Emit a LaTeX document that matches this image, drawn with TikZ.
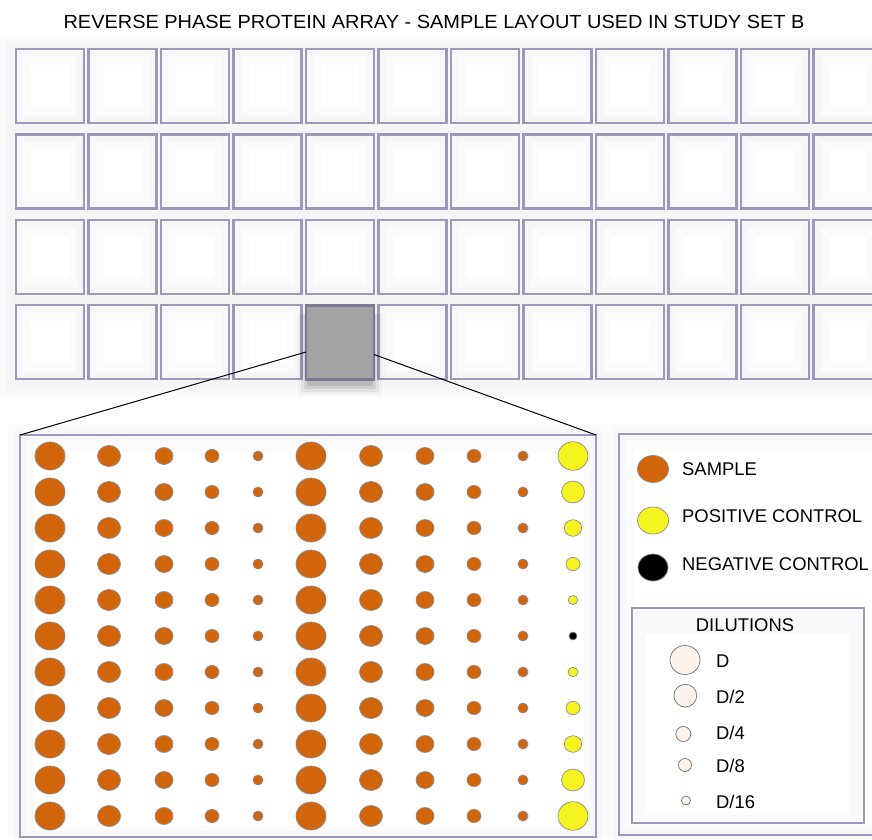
\documentclass[tikz,border=0pt]{standalone}
\usepackage{fontspec}
\setmainfont{Liberation Sans}
\definecolor{cellborder}{HTML}{9A9AB8}
\definecolor{orangedot}{HTML}{D2640A}
\definecolor{yellowdot}{HTML}{F5F51E}
\definecolor{creamdot}{HTML}{FCF4EC}
\definecolor{grayfill}{HTML}{A3A3A3}
\tikzset{
  cell/.style={draw=cellborder, line width=2.4pt, minimum width=68pt, minimum height=74pt, inner sep=0pt, outer sep=0pt},
  graycell/.style={cell, fill=grayfill, draw=cellborder!80!black},
  panelbox/.style={draw=cellborder, line width=2.4pt, inner sep=0pt, outer sep=0pt},
  dilbox/.style={draw=cellborder, line width=1.5pt, inner sep=0pt, outer sep=0pt},
  dotline/.style={draw=black!45, line width=0.7pt},
  lbl/.style={font=\fontsize{18.4}{20}\selectfont, inner sep=0pt},
  zoomline/.style={draw=black, line width=1pt}
}
\begin{document}
\begin{tikzpicture}[x=1pt,y=-1pt]
\useasboundingbox (0,0) rectangle (872,839);
\fill[white] (0,0) rectangle (872,839);
% title
\node[lbl, anchor=base] (title) at (434,28) {\scalebox{1.05}[1]{\fontsize{19}{20}\selectfont REVERSE PHASE PROTEIN ARRAY - SAMPLE LAYOUT USED IN STUDY SET B}};
% grid background
\fill[gray!3] (0,36) rectangle (872,398);
\fill[gray!6] (5,41) rectangle (872,393);
\fill[gray!8] (10,45) rectangle (872,388);
% grid cells
\foreach \c in {0,...,11}{
  \foreach \r in {0,...,3}{
    \pgfmathsetmacro\xl{16+72.5*\c}
    \pgfmathsetmacro\yt{49+85.4*\r}
    \fill[gray!7] (\xl,\yt) rectangle (\xl+68,\yt+74);
    \fill[gray!3] (\xl+7,\yt+7) rectangle (\xl+61,\yt+67);
    \fill[white] (\xl+15,\yt+16) rectangle (\xl+53,\yt+58);
    \ifnum\c=4 \ifnum\r=3 \else
      \node[cell] (c\c r\r) at (\xl+34,\yt+37) {};
    \fi\else
      \node[cell] (c\c r\r) at (\xl+34,\yt+37) {};
    \fi
  }
}
% highlighted gray cell with shadow
\foreach \e/\o in {2/0.10,5/0.07,8/0.05,11/0.03}{
  \fill[black,opacity=\o] (306-\e+3,306+8) rectangle (374+\e-3,380+\e+4);
}
\node[graycell] (gs) at (340,342.5) {};
% panel backgrounds
\fill[gray!3] (8,424) rectangle (608,839);
\fill[gray!6] (14,429) rectangle (602,839);
\fill[gray!3] (608,424) rectangle (872,839);
\fill[gray!6] (613,429) rectangle (872,839);
% main panel
\fill[gray!6] (20,435) rectangle (596,837);
\fill[gray!3] (26,441) rectangle (590,831);
\fill[white] (34,452) rectangle (584,826);
\node[panelbox, minimum width=576pt, minimum height=402pt] (panel) at (308,636) {};
% legend panel
\fill[gray!6] (619,434) rectangle (890,835);
\fill[gray!3] (625,440) rectangle (890,829);
\fill[white] (634,450) rectangle (890,824);
\node[panelbox, minimum width=271pt, minimum height=401pt] (legend) at (754.5,634.5) {};
% dilution box
\fill[gray!5] (632,608) rectangle (864,823);
\fill[white] (645,634) rectangle (850,815);
\node[dilbox, minimum width=232pt, minimum height=215pt] (dil) at (748,715.5) {};
% zoom connectors
\draw[zoomline] ([yshift=-9.5pt]gs.west) -- (panel.north west);
\draw[zoomline] ([yshift=-12pt]gs.east) -- (panel.north east);
% sample dots
\foreach \r in {0,...,10}{
  \pgfmathsetmacro\yc{456+36*\r}
  \foreach \x/\rx/\ry in {50/15/14,109/11.5/10.5,164/9/8.5,212/7/6.6,258/5/5,311/15/14,371/11.5/10.5,425/9/8.5,474/7/6.6,523/5/5}{
    \filldraw[dotline, fill=orangedot] (\x,\yc) ellipse [x radius=\rx, y radius=\ry];
  }
}
% control column
\foreach \r/\d in {0/15,1/11.5,2/8.7,3/7,4/4.7,6/5,7/7,8/8.7,9/11.5,10/15}{
  \pgfmathsetmacro\yc{456+36*\r}
  \filldraw[dotline, fill=yellowdot] (573,\yc) ellipse [x radius=\d, y radius=\d*0.95];
}
\filldraw[dotline, fill=black] (573,636) circle [radius=4];
% legend entries
\filldraw[dotline, fill=orangedot] (653,469) ellipse [x radius=15.5, y radius=13.5];
\filldraw[dotline, fill=yellowdot] (653,520.5) ellipse [x radius=15.5, y radius=13.5];
\filldraw[dotline, fill=black] (653,567.5) ellipse [x radius=15, y radius=13.5];
\node[lbl, anchor=base west] (lsample) at (682,475) {SAMPLE};
\node[lbl, anchor=base west] (lpos) at (682,522) {POSITIVE CONTROL};
\node[lbl, anchor=base west] (lneg) at (682,570) {NEGATIVE CONTROL};
% dilutions
\node[lbl, anchor=base] (dtitle) at (745,631) {DILUTIONS};
\filldraw[dotline, draw=black!55, fill=creamdot] (685,660) ellipse [x radius=15, y radius=14.5];
\filldraw[dotline, draw=black!55, fill=creamdot] (685.3,695.6) ellipse [x radius=11.4, y radius=11.4];
\filldraw[dotline, draw=black!55, fill=creamdot] (683.3,734) circle [radius=7.5];
\filldraw[dotline, draw=black!55, fill=creamdot] (685,765) circle [radius=6.5];
\filldraw[dotline, draw=black!55, fill=creamdot] (686,800.5) circle [radius=4.5];
\node[lbl, anchor=base west] (d1) at (716,667) {D};
\node[lbl, anchor=base west] (d2) at (716,703) {D/2};
\node[lbl, anchor=base west] (d4) at (716,739) {D/4};
\node[lbl, anchor=base west] (d8) at (716,772) {D/8};
\node[lbl, anchor=base west] (d16) at (716,808) {D/16};
\end{tikzpicture}
\end{document}
